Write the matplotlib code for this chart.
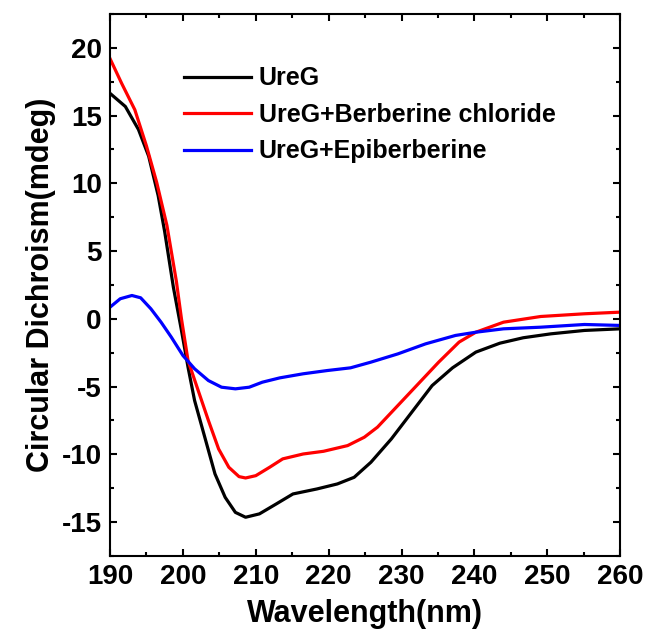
import matplotlib
matplotlib.use('Agg')
import matplotlib.pyplot as plt
from matplotlib.ticker import MultipleLocator

plt.rcParams['font.family'] = ['Liberation Sans', 'DejaVu Sans']
plt.rcParams['font.weight'] = 'bold'
plt.rcParams['axes.unicode_minus'] = False

# UreG
wl_ureg = [190, 192.1, 193.9, 195.3, 196.6, 197.5, 198.7, 199.8, 200.7, 201.6, 203.0, 204.4,
           205.8, 207.2, 208.6, 210.5, 212.8, 215.1, 218.4, 221.2, 223.5, 225.8, 228.6, 231.4,
           234.2, 237.0, 240.2, 243.5, 246.7, 250.5, 255.1, 260.0]
cd_ureg = [16.64, 15.67, 13.97, 12.0, 9.1, 6.42, 2.3, -0.86, -3.57, -6.03, -8.74, -11.45,
           -13.18, -14.29, -14.65, -14.4, -13.67, -12.93, -12.56, -12.19, -11.7, -10.59, -8.87, -6.9,
           -4.93, -3.62, -2.46, -1.8, -1.4, -1.11, -0.86, -0.74]

# UreG+Berberine chloride
wl_bc = [190, 191.6, 193.4, 195.0, 196.4, 197.8, 199.1, 199.8, 200.7, 202.1, 203.5, 204.9,
         206.3, 207.7, 208.6, 210.0, 211.9, 213.7, 216.5, 219.3, 222.6, 224.9, 226.7, 229.5,
         232.3, 235.1, 237.9, 240.2, 244.0, 249.1, 255.1, 260.0]
cd_bc = [19.2, 17.37, 15.43, 12.75, 10.07, 6.9, 2.77, 0.0, -3.08, -5.3, -7.51, -9.61,
         -10.96, -11.65, -11.75, -11.58, -10.96, -10.34, -9.98, -9.78, -9.36, -8.74, -8.0, -6.4,
         -4.8, -3.2, -1.72, -0.99, -0.25, 0.17, 0.37, 0.49]

# UreG+Epiberberine
wl_epi = [190, 191.4, 193.0, 194.2, 195.6, 197.0, 198.4, 200.0, 201.6, 203.5, 205.3, 207.2,
          209.1, 210.9, 213.3, 216.5, 219.8, 223.0, 225.8, 229.5, 233.3, 237.4, 240.2, 244.0,
          249.1, 255.1, 260.0]
cd_epi = [0.86, 1.48, 1.72, 1.55, 0.74, -0.25, -1.35, -2.71, -3.69, -4.56, -5.05, -5.17,
          -5.05, -4.68, -4.36, -4.06, -3.82, -3.62, -3.2, -2.59, -1.85, -1.23, -0.99, -0.74,
          -0.62, -0.42, -0.49]

fig = plt.figure(figsize=(6.59, 6.36), dpi=100)
ax = fig.add_axes([0.167, 0.126, 0.774, 0.852])

ax.plot(wl_ureg, cd_ureg, color='black', lw=2.3, label='UreG')
ax.plot(wl_bc, cd_bc, color='#ff0000', lw=2.3, label='UreG+Berberine chloride')
ax.plot(wl_epi, cd_epi, color='#0000ff', lw=2.3, label='UreG+Epiberberine')

ax.set_xlim(190, 260)
ax.set_ylim(-17.5, 22.5)
ax.xaxis.set_major_locator(MultipleLocator(10))
ax.xaxis.set_minor_locator(MultipleLocator(5))
ax.yaxis.set_major_locator(MultipleLocator(5))
ax.yaxis.set_minor_locator(MultipleLocator(2.5))
ax.tick_params(which='both', direction='in', top=True, right=True, width=1.5)
ax.tick_params(which='major', length=5, labelsize=20, pad=6)
ax.tick_params(which='minor', length=3)
for s in ax.spines.values():
    s.set_linewidth(1.5)

ax.set_xlabel('Wavelength(nm)', fontsize=22, fontweight='bold', labelpad=6)
ax.set_ylabel('Circular Dichroism(mdeg)', fontsize=22, fontweight='bold', labelpad=4)

ax.legend(loc='upper left', bbox_to_anchor=(0.1, 0.945), frameon=False, fontsize=18,
          handlelength=2.7, handletextpad=0.3, labelspacing=0.5)

fig.savefig('out.png', dpi=100)
